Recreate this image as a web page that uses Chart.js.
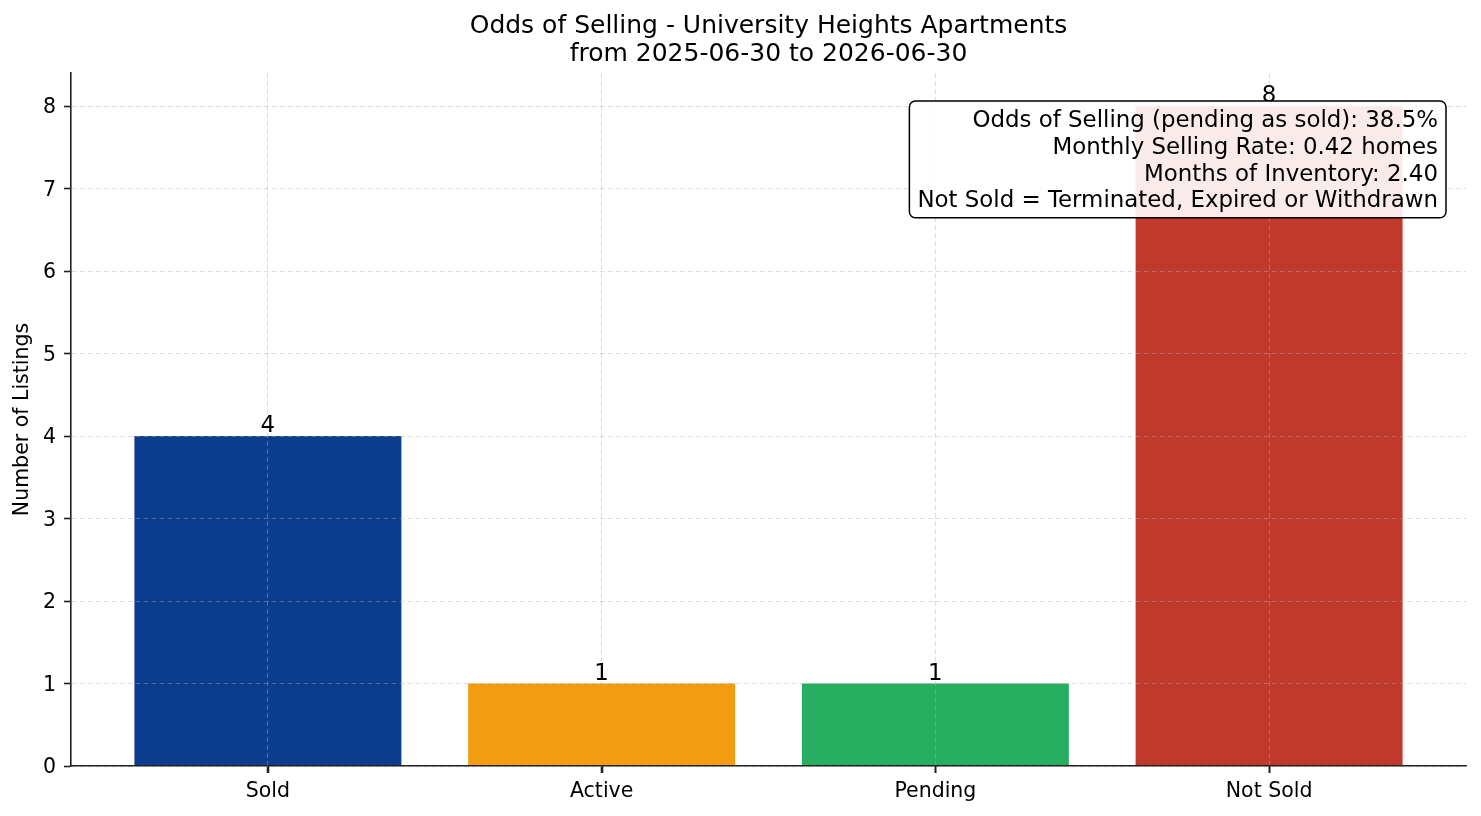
<!DOCTYPE html>
<html>
<head>
<meta charset="utf-8">
<script src="https://cdn.jsdelivr.net/npm/chart.js@4/dist/chart.umd.min.js"></script>
<style>
  html, body { margin: 0; padding: 0; background: #fff; }
  canvas { display: block; }
</style>
</head>
<body>
<canvas id="oddsChart" width="1481" height="816"></canvas>
<script>
// chart data
const categories = ['Sold', 'Active', 'Pending', 'Not Sold'];
const listingCounts = [4, 1, 1, 8];
const barColors = ['#0b3c8d', '#f39c12', '#27ae60', '#c0392b'];
const yTicks = [0, 1, 2, 3, 4, 5, 6, 7, 8];
const titleLines = ['Odds of Selling - University Heights Apartments', 'from 2025-06-30 to 2026-06-30'];
const statLines = [
  'Odds of Selling (pending as sold): 38.5%',
  'Monthly Selling Rate: 0.42 homes',
  'Months of Inventory: 2.40',
  'Not Sold = Terminated, Expired or Withdrawn'
];

const FONT = '"DejaVu Sans", sans-serif';
const gridColor = 'rgba(175,175,175,0.55)';

// title (centred over the axes), x tick marks, bar value labels + stats box
const overlayPlugin = {
  id: 'overlay',
  afterDraw(chart) {
    const ctx = chart.ctx;
    const area = chart.chartArea;
    const xScale = chart.scales.x;
    const meta = chart.getDatasetMeta(0);
    ctx.save();

    // x tick marks
    ctx.strokeStyle = '#222';
    ctx.lineWidth = 1.6;
    categories.forEach((c, i) => {
      const px = Math.round(xScale.getPixelForValue(i)) + 0.5;
      ctx.beginPath();
      ctx.moveTo(px, area.bottom);
      ctx.lineTo(px, area.bottom + 7);
      ctx.stroke();
    });

    ctx.font = '25px ' + FONT;
    ctx.fillStyle = '#000';
    ctx.textAlign = 'center';
    ctx.textBaseline = 'middle';
    const cx = (area.left + area.right) / 2;
    titleLines.forEach((line, i) => ctx.fillText(line, cx, 26 + i * 28));

    ctx.font = '22.9px ' + FONT;
    ctx.textBaseline = 'alphabetic';
    meta.data.forEach((bar, i) => {
      ctx.fillText(String(listingCounts[i]), bar.x, bar.y - 4);
    });

    // stats box
    const pad = 8, lineH = 26.7;
    const w = Math.max(...statLines.map(l => ctx.measureText(l).width));
    const right = area.right - 20;
    const top = area.top + 28;
    const left = right - w - 2 * pad;
    const h = statLines.length * lineH + 10;
    ctx.beginPath();
    ctx.roundRect(left, top, right - left, h, 6);
    ctx.fillStyle = 'rgba(255,255,255,0.9)';
    ctx.fill();
    ctx.lineWidth = 1.5;
    ctx.strokeStyle = '#000';
    ctx.stroke();
    ctx.fillStyle = '#000';
    ctx.textAlign = 'right';
    ctx.textBaseline = 'middle';
    statLines.forEach((line, i) => {
      ctx.fillText(line, right - pad, top + 7 + lineH * (i + 0.5));
    });
    ctx.restore();
  }
};

const gridOpts = {
  z: 1,
  color: gridColor,
  lineWidth: 0.8,
  borderDash: [5, 3],
  drawTicks: true,
  tickLength: 7,
  tickColor: '#222',
  tickWidth: 1.6,
  tickBorderDash: []
};

const ctx = document.getElementById('oddsChart').getContext('2d');
new Chart(ctx, {
  type: 'bar',
  data: {
    datasets: [{
      data: listingCounts.map((v, i) => ({ x: i, y: v })),
      backgroundColor: barColors,
      borderWidth: 0,
      barPercentage: 0.8,
      categoryPercentage: 1
    }]
  },
  options: {
    responsive: false,
    animation: false,
    devicePixelRatio: 1,
    layout: { padding: { left: 0, right: 15, top: 73, bottom: 0 } },
    plugins: {
      legend: { display: false },
      tooltip: { enabled: false },
      title: { display: false }
    },
    scales: {
      x: {
        type: 'linear',
        min: -0.59,
        max: 3.59,
        offset: false,
        afterBuildTicks: (axis) => { axis.ticks = categories.map((c, i) => ({ value: i })); },
        afterFit: (axis) => { axis.height = 50; },
        ticks: {
          z: 1,
          callback: (v) => categories[v],
          color: '#000',
          font: { family: FONT, size: 20.5 },
          padding: 6,
          maxRotation: 0,
          autoSkip: false
        },
        grid: Object.assign({ offset: false }, gridOpts),
        border: { display: true, z: 2, color: '#222', width: 1.6, dash: [5, 3] }
      },
      y: {
        min: 0,
        max: 8.4,
        afterBuildTicks: (axis) => { axis.ticks = yTicks.map(v => ({ value: v })); },
        afterFit: (axis) => { axis.width = 71; },
        ticks: {
          z: 1,
          color: '#000',
          font: { family: FONT, size: 20.5 },
          padding: 8,
          labelOffset: 2
        },
        grid: Object.assign({}, gridOpts),
        border: { display: true, z: 2, color: '#222', width: 1.6, dash: [5, 3] },
        title: {
          display: true,
          text: 'Number of Listings',
          color: '#000',
          font: { family: FONT, size: 20.5 },
          padding: { top: 10, bottom: 0 }
        }
      }
    }
  },
  plugins: [overlayPlugin]
});
</script>
</body>
</html>
